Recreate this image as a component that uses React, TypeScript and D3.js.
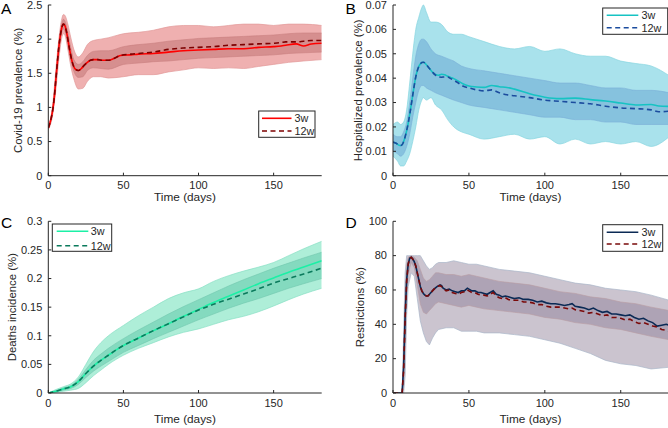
import React from "react";
import * as d3 from "d3";

const FONT = "'Liberation Sans', Arial, Helvetica, sans-serif";

// ---------- shared ticks ----------
const xTicks = [0, 50, 100, 150];
const xDomain = [0, 182];
const legendLabels = ["3w", "12w"];

// ---------- Panel A: Covid-19 prevalence ----------
const yTicksA = [0, 0.5, 1, 1.5, 2, 2.5];
const meanDaysA = [0, 2, 3, 4, 5, 6, 7, 8, 9, 10, 11, 12, 13, 14, 16, 18, 20, 22, 24, 26, 28, 30, 33, 36, 40, 44, 48, 55, 60, 70, 80, 90, 100, 110, 120, 130, 140, 150, 155, 158, 165, 170, 175, 182];
const a3w = [0.7, 0.85, 0.97, 1.15, 1.4, 1.65, 1.88, 2.05, 2.17, 2.22, 2.2, 2.12, 2.0, 1.87, 1.66, 1.56, 1.54, 1.57, 1.62, 1.66, 1.69, 1.7, 1.7, 1.69, 1.69, 1.72, 1.76, 1.77, 1.78, 1.79, 1.81, 1.83, 1.84, 1.85, 1.86, 1.86, 1.88, 1.89, 1.9, 1.91, 1.93, 1.9, 1.93, 1.94];
const a12w = [0.7, 0.85, 0.97, 1.15, 1.4, 1.65, 1.88, 2.05, 2.17, 2.22, 2.2, 2.12, 2.0, 1.87, 1.66, 1.56, 1.54, 1.57, 1.62, 1.66, 1.69, 1.7, 1.7, 1.69, 1.69, 1.72, 1.76, 1.78, 1.79, 1.81, 1.85, 1.87, 1.88, 1.89, 1.91, 1.92, 1.93, 1.94, 1.95, 1.96, 1.96, 1.97, 1.98, 1.98];
const bandDaysA = [0, 3, 5, 7, 9, 10, 11, 13, 15, 17, 20, 23, 26, 30, 35, 40, 50, 60, 70, 80, 90, 100, 110, 120, 130, 140, 150, 160, 170, 182];
const aOutHi = [0.73, 1.05, 1.55, 2.0, 2.3, 2.36, 2.35, 2.22, 2.02, 1.85, 1.74, 1.8, 1.92, 1.98, 2.0, 2.02, 2.08, 2.1, 2.13, 2.18, 2.2, 2.2, 2.18, 2.2, 2.22, 2.22, 2.2, 2.22, 2.22, 2.2];
const aOutLo = [0.67, 0.9, 1.25, 1.7, 2.02, 2.08, 2.06, 1.85, 1.6, 1.42, 1.27, 1.28, 1.38, 1.45, 1.45, 1.43, 1.45, 1.48, 1.48, 1.52, 1.55, 1.58, 1.57, 1.58, 1.57, 1.6, 1.63, 1.66, 1.68, 1.7];
const aInHi = [0.71, 1.0, 1.45, 1.93, 2.23, 2.29, 2.27, 2.1, 1.87, 1.7, 1.63, 1.67, 1.76, 1.82, 1.83, 1.83, 1.89, 1.92, 1.94, 1.97, 1.99, 2.01, 2.02, 2.03, 2.04, 2.05, 2.06, 2.08, 2.09, 2.09];
const aInLo = [0.69, 0.94, 1.33, 1.8, 2.1, 2.15, 2.12, 1.92, 1.68, 1.53, 1.44, 1.45, 1.54, 1.58, 1.57, 1.56, 1.63, 1.65, 1.67, 1.68, 1.7, 1.72, 1.73, 1.74, 1.75, 1.76, 1.77, 1.79, 1.8, 1.81];

// ---------- Panel B: Hospitalized prevalence ----------
const yTicksB = [0, 0.01, 0.02, 0.03, 0.04, 0.05, 0.06, 0.07];
const meanDaysB = [0, 2, 4, 5, 6, 7, 8, 9, 10, 11, 12, 13, 14, 15, 16, 17, 18, 19, 20, 21, 22, 24, 26, 28, 30, 32, 34, 36, 38, 40, 43, 46, 50, 55, 60, 65, 70, 75, 80, 90, 100, 110, 120, 130, 140, 150, 160, 170, 175, 182];
const b3w = [0.0138, 0.0133, 0.0125, 0.0124, 0.0127, 0.014, 0.016, 0.0185, 0.0215, 0.025, 0.029, 0.033, 0.037, 0.0405, 0.043, 0.0448, 0.0458, 0.0464, 0.0465, 0.0462, 0.0455, 0.044, 0.0425, 0.0415, 0.0412, 0.0416, 0.0414, 0.0408, 0.0403, 0.0398, 0.0388, 0.0377, 0.0368, 0.0364, 0.0362, 0.037, 0.0365, 0.0362, 0.0355, 0.0336, 0.0322, 0.0316, 0.0318, 0.0312, 0.0306, 0.0298, 0.029, 0.0292, 0.0286, 0.0284];
const b12w = [0.0138, 0.0133, 0.0125, 0.0124, 0.0127, 0.014, 0.016, 0.0185, 0.0215, 0.025, 0.029, 0.033, 0.037, 0.0405, 0.043, 0.0448, 0.0458, 0.0464, 0.0465, 0.0462, 0.0455, 0.044, 0.0425, 0.0412, 0.0405, 0.0404, 0.0405, 0.0405, 0.0398, 0.0392, 0.038, 0.0368, 0.036, 0.0352, 0.0348, 0.0352, 0.034, 0.0332, 0.0328, 0.032, 0.031, 0.0305, 0.03, 0.0295, 0.0285, 0.0278, 0.0275, 0.027, 0.0262, 0.0265];
const bandDaysB = [0, 3, 5, 7, 9, 11, 13, 15, 17, 19, 20, 22, 25, 28, 32, 36, 40, 45, 50, 60, 70, 80, 90, 100, 110, 120, 130, 140, 150, 160, 170, 182];
const bOutHi = [0.021, 0.022, 0.021, 0.022, 0.027, 0.038, 0.05, 0.06, 0.065, 0.069, 0.07, 0.067, 0.063, 0.063, 0.062, 0.059, 0.058, 0.058, 0.057, 0.055, 0.053, 0.052, 0.053, 0.051, 0.052, 0.05, 0.049, 0.049, 0.047, 0.046, 0.045, 0.041];
const bOutLo = [0.008, 0.006, 0.004, 0.004, 0.006, 0.009, 0.014, 0.02, 0.027, 0.031, 0.032, 0.031, 0.032, 0.029, 0.027, 0.023, 0.02, 0.018, 0.017, 0.015, 0.016, 0.017, 0.015, 0.016, 0.013, 0.015, 0.013, 0.014, 0.013, 0.014, 0.012, 0.016];
const bInHi = [0.017, 0.016, 0.016, 0.018, 0.022, 0.03, 0.04, 0.049, 0.054, 0.056, 0.056, 0.055, 0.052, 0.05, 0.049, 0.048, 0.047, 0.045, 0.044, 0.043, 0.042, 0.041, 0.04, 0.039, 0.038, 0.038, 0.037, 0.036, 0.036, 0.035, 0.035, 0.034];
const bInLo = [0.01, 0.009, 0.008, 0.009, 0.012, 0.017, 0.024, 0.03, 0.035, 0.037, 0.037, 0.036, 0.035, 0.034, 0.033, 0.032, 0.031, 0.03, 0.029, 0.028, 0.027, 0.026, 0.025, 0.024, 0.024, 0.023, 0.023, 0.022, 0.022, 0.021, 0.021, 0.021];

// ---------- Panel C: Deaths incidence ----------
const yTicksC = [0, 0.05, 0.1, 0.15, 0.2, 0.25, 0.3];
const meanDaysC = [0, 5, 10, 15, 20, 25, 30, 35, 40, 45, 50, 60, 70, 80, 90, 100, 110, 120, 130, 140, 150, 160, 170, 182];
const c3w = [0, 0.003, 0.007, 0.011, 0.02, 0.034, 0.047, 0.057, 0.066, 0.075, 0.083, 0.096, 0.109, 0.121, 0.134, 0.146, 0.158, 0.169, 0.18, 0.191, 0.201, 0.211, 0.22, 0.231];
const c12w = [0, 0.003, 0.007, 0.011, 0.02, 0.034, 0.047, 0.057, 0.066, 0.075, 0.083, 0.096, 0.109, 0.121, 0.133, 0.145, 0.155, 0.164, 0.173, 0.182, 0.192, 0.2, 0.208, 0.218];
const bandDaysC = [0, 5, 10, 15, 20, 25, 30, 35, 40, 50, 60, 70, 80, 90, 100, 110, 120, 130, 140, 150, 160, 170, 182];
const cOutHi = [0, 0.006, 0.011, 0.016, 0.028, 0.05, 0.072, 0.088, 0.1, 0.118, 0.135, 0.15, 0.165, 0.175, 0.182, 0.195, 0.205, 0.213, 0.22, 0.228, 0.24, 0.252, 0.265];
const cOutLo = [0, 0.001, 0.003, 0.005, 0.008, 0.018, 0.03, 0.04, 0.05, 0.066, 0.078, 0.088, 0.098, 0.106, 0.112, 0.12, 0.128, 0.134, 0.142, 0.152, 0.163, 0.173, 0.183];
const cInHi = [0, 0.004, 0.009, 0.013, 0.024, 0.041, 0.057, 0.068, 0.078, 0.095, 0.11, 0.124, 0.138, 0.151, 0.163, 0.175, 0.187, 0.198, 0.208, 0.218, 0.227, 0.236, 0.246];
const cInLo = [0, 0.002, 0.005, 0.008, 0.015, 0.027, 0.038, 0.047, 0.055, 0.071, 0.083, 0.095, 0.106, 0.117, 0.128, 0.138, 0.148, 0.157, 0.165, 0.174, 0.183, 0.191, 0.2];

// ---------- Panel D: Restrictions ----------
const yTicksD = [0, 20, 40, 60, 80, 100];
const meanDaysD = [0, 6, 7, 8, 9, 10, 11, 12, 13, 14, 15, 16, 17, 18, 19, 20, 21, 22, 23, 24, 25, 27, 29, 31, 32, 33, 35, 37, 39, 41, 43, 45, 47, 49, 50, 52, 54, 56, 58, 60, 62, 64, 66, 68, 70, 72, 74, 76, 78, 80, 83, 86, 89, 92, 95, 98, 101, 104, 107, 110, 113, 116, 118, 120, 123, 126, 129, 132, 135, 138, 141, 144, 147, 150, 153, 156, 159, 162, 165, 168, 171, 174, 177, 180, 182];
const d3w = [0, 0, 15, 45, 66, 75, 78.5, 79, 78, 76.5, 74, 70, 66, 62, 59.5, 58, 57, 56.5, 56.5, 57.5, 58.5, 60.5, 62, 63, 62.5, 61, 60, 60.5, 59.5, 59, 58.5, 59.5, 59.5, 61, 60.5, 59.5, 59.5, 58.5, 58.5, 58, 57.5, 58.5, 59.5, 57.5, 57, 56, 56.5, 56, 55.5, 55, 55.5, 54.5, 54.5, 54, 53, 53.5, 52.5, 52, 52, 51.5, 51, 51.5, 52, 50.5, 50, 49.5, 48.5, 49.5, 48, 47, 47.5, 46, 46, 45.5, 45, 45.5, 44, 43, 43.5, 42, 41, 39, 39.5, 40, 39.5];
const d12w = [0, 0, 13, 43, 65, 75, 78.5, 79, 78, 76.5, 74, 70, 66, 62, 59.5, 58, 57, 56.5, 56.5, 57.5, 58.5, 60.5, 62, 62.5, 62, 61, 59.5, 60, 58.5, 58, 57.5, 58.5, 59, 60, 59.5, 58.5, 58.5, 57.5, 57, 57, 56.5, 57.5, 58.5, 56.5, 55.5, 55, 55.5, 54.5, 54, 54, 54, 53, 53, 52.5, 51.5, 51.5, 50.5, 50, 50, 50, 49.5, 49, 49.5, 48.5, 48, 47.5, 46.5, 47, 46, 45, 45.5, 44, 44, 43.5, 42.5, 43, 41.5, 40.5, 41, 40, 39, 38.5, 37, 36.5, 36];
const bandDaysD = [0, 6, 7, 8, 9, 10, 12, 14, 16, 18, 20, 22, 24, 26, 28, 30, 35, 40, 45, 50, 55, 60, 70, 80, 90, 100, 110, 120, 130, 140, 150, 160, 170, 182];
const dOutHi = [0, 0, 35, 70, 80, 80, 80, 80, 80, 80, 77, 74, 72, 73, 75, 76, 76, 77, 76, 75, 75, 74, 72, 71, 70, 68, 66, 64, 63, 61, 60, 59, 57, 54];
const dOutLo = [0, 0, 0, 10, 45, 62, 70, 68, 55, 42, 35, 30, 28, 32, 35, 37, 38, 38, 36, 36, 36, 35, 35, 34, 33, 31, 29, 26, 23, 19, 17, 16, 14, 15];
const dInHi = [0, 0, 22, 58, 74, 79, 80, 79, 77, 72, 67, 65, 66, 68, 70, 70, 69, 69, 68, 69, 68, 67, 65, 64, 63, 61, 59, 58, 56, 55, 53, 52, 50, 48];
const dInLo = [0, 0, 5, 30, 56, 69, 76, 73, 63, 52, 47, 46, 48, 50, 52, 53, 52, 51, 50, 51, 50, 49, 48, 47, 46, 44, 43, 41, 40, 38, 37, 35, 33, 31];

type Cfg = {
  id: string;
  xr: [number, number];
  yr: [number, number];
  yDomain: [number, number];
  yTicks: number[];
  yLabel: string;
  yLabelX: number;
  xLabelY: number;
  letterX: number;
  letterY: number;
  meanDays: number[];
  m3: number[];
  m12: number[];
  bandDays: number[];
  outHi: number[];
  outLo: number[];
  inHi: number[];
  inLo: number[];
  outFill: string;
  inFill: string;
  edge: string;
  inEdge: string;
  c3: string;
  c12: string;
  curve: any;
  legend: { x: number; y: number; w: number; h: number; lx0: number; lx1: number; tx: number; r1: number; r2: number };
};

const panels: Cfg[] = [
  {
    id: "A", xr: [48.3, 321.7], yr: [175.7, 5], yDomain: [0, 2.5], yTicks: yTicksA,
    yLabel: "Covid-19 prevalence (%)", yLabelX: 22, xLabelY: 201, letterX: 1, letterY: 13.5,
    meanDays: meanDaysA, m3: a3w, m12: a12w, bandDays: bandDaysA, outHi: aOutHi, outLo: aOutLo, inHi: aInHi, inLo: aInLo,
    outFill: "#efb0b0", inFill: "#d18a8a", edge: "#e29a9a", inEdge: "#c98080", c3: "#ff0000", c12: "#7d0000", curve: d3.curveMonotoneX,
    legend: { x: 258.7, y: 111, w: 56.3, h: 26.3, lx0: 262, lx1: 291.5, tx: 294.5, r1: 118.3, r2: 131 },
  },
  {
    id: "B", xr: [393, 669.3], yr: [175.7, 5], yDomain: [0, 0.07], yTicks: yTicksB,
    yLabel: "Hospitalized prevalence (%)", yLabelX: 362, xLabelY: 201, letterX: 345.5, letterY: 13.5,
    meanDays: meanDaysB, m3: b3w, m12: b12w, bandDays: bandDaysB, outHi: bOutHi, outLo: bOutLo, inHi: bInHi, inLo: bInLo,
    outFill: "#a9e2ec", inFill: "#80bcdc", edge: "#86d6e0", inEdge: "#7aaed6", c3: "#16c3c3", c12: "#1b4c9e", curve: d3.curveMonotoneX,
    legend: { x: 602.7, y: 8, w: 65, h: 26.3, lx0: 606.7, lx1: 638.3, tx: 641.5, r1: 15.3, r2: 27.7 },
  },
  {
    id: "C", xr: [48.3, 321.7], yr: [393, 221.3], yDomain: [0, 0.3], yTicks: yTicksC,
    yLabel: "Deaths incidence (%)", yLabelX: 16, xLabelY: 422.5, letterX: 1, letterY: 228,
    meanDays: meanDaysC, m3: c3w, m12: c12w, bandDays: bandDaysC, outHi: cOutHi, outLo: cOutLo, inHi: cInHi, inLo: cInLo,
    outFill: "#aeeed8", inFill: "#7dd6bb", edge: "#88e0c4", inEdge: "#72c8ae", c3: "#1cf0a6", c12: "#0a7a5c", curve: d3.curveMonotoneX,
    legend: { x: 52.3, y: 224, w: 59.4, h: 27.3, lx0: 56.7, lx1: 88.3, tx: 90.7, r1: 231.3, r2: 245.7 },
  },
  {
    id: "D", xr: [393, 669.3], yr: [393, 221.3], yDomain: [0, 100], yTicks: yTicksD,
    yLabel: "Restrictions (%)", yLabelX: 364, xLabelY: 422.5, letterX: 345.5, letterY: 228,
    meanDays: meanDaysD, m3: d3w, m12: d12w, bandDays: bandDaysD, outHi: dOutHi, outLo: dOutLo, inHi: dInHi, inLo: dInLo,
    outFill: "#cbc4cf", inFill: "#a99db0", edge: "#a9b6c8", inEdge: "#b89ca2", c3: "#0b2a55", c12: "#7a0a0a", curve: d3.curveLinear,
    legend: { x: 602.7, y: 224.7, w: 60, h: 26.6, lx0: 606.7, lx1: 638.3, tx: 641.5, r1: 232.3, r2: 244 },
  },
];

const AX = "#262626";

function Panel({ p }: { p: Cfg }) {
  const x = d3.scaleLinear().domain(xDomain).range(p.xr);
  const y = d3.scaleLinear().domain(p.yDomain).range(p.yr);
  const area = (lo: number[], hi: number[]) =>
    d3.area<number>().x((d) => x(d)).y0((_, i) => y(lo[i])).y1((_, i) => y(hi[i])).curve(p.curve)(p.bandDays) || "";
  const edgeLine = (vals: number[]) =>
    d3.line<number>().x((d) => x(d)).y((_, i) => y(vals[i])).curve(p.curve)(p.bandDays) || "";
  const meanLine = (vals: number[]) =>
    d3.line<number>().x((d) => x(d)).y((_, i) => y(vals[i])).curve(p.curve)(p.meanDays) || "";
  const clipId = `clip${p.id}`;
  const [x0, x1] = p.xr;
  const [yb, yt] = p.yr;
  const lg = p.legend;
  return (
    <g>
      <defs>
        <clipPath id={clipId}>
          <rect x={x0} y={yt - 2} width={x1 - x0} height={yb - yt + 2} />
        </clipPath>
      </defs>
      <g clipPath={`url(#${clipId})`}>
        <path d={area(p.outLo, p.outHi)} fill={p.outFill} />
        <path d={edgeLine(p.outHi)} fill="none" stroke={p.edge} strokeWidth={0.7} />
        <path d={edgeLine(p.outLo)} fill="none" stroke={p.edge} strokeWidth={0.7} />
        <path d={area(p.inLo, p.inHi)} fill={p.inFill} opacity={0.85} />
        <path d={edgeLine(p.inHi)} fill="none" stroke={p.inEdge} strokeWidth={0.6} />
        <path d={edgeLine(p.inLo)} fill="none" stroke={p.inEdge} strokeWidth={0.6} />
        <path d={meanLine(p.m3)} fill="none" stroke={p.c3} strokeWidth={1.6} />
        <path d={meanLine(p.m12)} fill="none" stroke={p.c12} strokeWidth={1.6} strokeDasharray="5,3.5" />
      </g>
      {/* axes */}
      <line x1={x0} x2={x0} y1={yt} y2={yb} stroke={AX} strokeWidth={1} />
      <line x1={x0} x2={x1} y1={yb} y2={yb} stroke={AX} strokeWidth={1} />
      {p.yTicks.map((t) => (
        <g key={`y${t}`}>
          <line x1={x0} x2={x0 + 3} y1={y(t)} y2={y(t)} stroke={AX} strokeWidth={1} />
          <text x={x0 - 6} y={y(t) + 3.8} textAnchor="end" fontSize={11} fill={AX} fontFamily={FONT}>
            {String(t)}
          </text>
        </g>
      ))}
      {xTicks.map((t) => (
        <g key={`x${t}`}>
          <line x1={x(t)} x2={x(t)} y1={yb} y2={yb - 3} stroke={AX} strokeWidth={1} />
          <text x={x(t)} y={yb + 13.5} textAnchor="middle" fontSize={11} fill={AX} fontFamily={FONT}>
            {String(t)}
          </text>
        </g>
      ))}
      <text x={(x0 + Math.min(x1, 668)) / 2} y={p.xLabelY} textAnchor="middle" fontSize={11.8} fill={AX} fontFamily={FONT}>
        Time (days)
      </text>
      <text
        transform={`translate(${p.yLabelX},${(yb + yt) / 2}) rotate(-90)`}
        textAnchor="middle"
        fontSize={11.4}
        fill={AX}
        fontFamily={FONT}
      >
        {p.yLabel}
      </text>
      <text x={p.letterX} y={p.letterY} fontSize={15.5} fill="#000" fontFamily={FONT}>
        {p.id}
      </text>
      {/* legend */}
      <rect x={lg.x} y={lg.y} width={lg.w} height={lg.h} fill="#fff" stroke={AX} strokeWidth={1} />
      <line x1={lg.lx0} x2={lg.lx1} y1={lg.r1} y2={lg.r1} stroke={p.c3} strokeWidth={1.6} />
      <line x1={lg.lx0} x2={lg.lx1} y1={lg.r2} y2={lg.r2} stroke={p.c12} strokeWidth={1.6} strokeDasharray="5,3.5" />
      <text x={lg.tx} y={lg.r1 + 3.8} fontSize={10.8} fill={AX} fontFamily={FONT}>
        {legendLabels[0]}
      </text>
      <text x={lg.tx} y={lg.r2 + 3.8} fontSize={10.8} fill={AX} fontFamily={FONT}>
        {legendLabels[1]}
      </text>
    </g>
  );
}

export default function App() {
  return (
    <svg
      width={668}
      height={428}
      viewBox="0 0 668 428"
      style={{ position: "absolute", left: 0, top: 0, background: "#fff" }}
    >
      <rect x={0} y={0} width={668} height={428} fill="#fff" />
      {panels.map((p) => (
        <Panel key={p.id} p={p} />
      ))}
    </svg>
  );
}
